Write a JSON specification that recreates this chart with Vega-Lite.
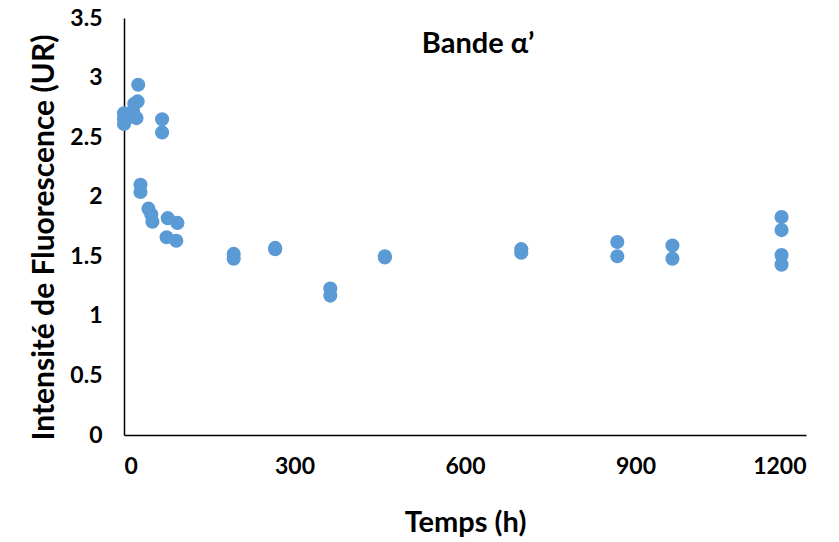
{
  "$schema": "https://vega.github.io/schema/vega-lite/v6.json",
  "width": 682,
  "height": 417,
  "autosize": {"type": "none"},
  "padding": {"left": 124, "top": 18, "right": 33, "bottom": 107},
  "background": "white",
  "config": {
    "view": {"stroke": null},
    "font": "Lato",
    "axis": {
      "grid": false,
      "ticks": false,
      "domainColor": "#000000",
      "domainWidth": 1.5,
      "labelFont": "Lato",
      "labelFontWeight": "bold",
      "labelFontSize": 23,
      "labelColor": "#000000",
      "titleFont": "Lato",
      "titleFontWeight": "bold",
      "titleFontSize": 29,
      "titleColor": "#000000"
    }
  },
  "data": {
    "values": [
      {"t": 0, "f": 2.70},
      {"t": 0, "f": 2.65},
      {"t": 0, "f": 2.61},
      {"t": 10, "f": 2.67},
      {"t": 16, "f": 2.72},
      {"t": 18, "f": 2.78},
      {"t": 22, "f": 2.66},
      {"t": 24, "f": 2.80},
      {"t": 25, "f": 2.94},
      {"t": 67, "f": 2.65},
      {"t": 67, "f": 2.54},
      {"t": 29, "f": 2.10},
      {"t": 29, "f": 2.04},
      {"t": 43, "f": 1.90},
      {"t": 48, "f": 1.85},
      {"t": 50, "f": 1.79},
      {"t": 77, "f": 1.82},
      {"t": 94, "f": 1.78},
      {"t": 75, "f": 1.66},
      {"t": 92, "f": 1.63},
      {"t": 193, "f": 1.52},
      {"t": 193, "f": 1.48},
      {"t": 266, "f": 1.57},
      {"t": 266, "f": 1.56},
      {"t": 363, "f": 1.23},
      {"t": 363, "f": 1.17},
      {"t": 459, "f": 1.50},
      {"t": 459, "f": 1.49},
      {"t": 699, "f": 1.56},
      {"t": 699, "f": 1.53},
      {"t": 868, "f": 1.62},
      {"t": 868, "f": 1.50},
      {"t": 965, "f": 1.59},
      {"t": 965, "f": 1.48},
      {"t": 1157, "f": 1.83},
      {"t": 1157, "f": 1.72},
      {"t": 1157, "f": 1.51},
      {"t": 1157, "f": 1.43}
    ]
  },
  "layer": [
    {
      "mark": {"type": "point", "filled": true, "size": 200, "color": "#5B9BD5", "opacity": 1},
      "encoding": {
        "x": {
          "field": "t",
          "type": "quantitative",
          "scale": {"domain": [0, 1200], "nice": false},
          "axis": {"values": [0, 300, 600, 900, 1200], "format": "d", "labelPadding": 20, "title": "Temps (h)", "titlePadding": 30}
        },
        "y": {
          "field": "f",
          "type": "quantitative",
          "scale": {"domain": [0, 3.5], "nice": false},
          "axis": {"values": [0, 0.5, 1, 1.5, 2, 2.5, 3, 3.5], "format": "~g", "labelPadding": 22, "title": "Intensité de Fluorescence (UR)", "titleFontSize": 30, "titlePadding": 10, "titleY": 219}
        }
      }
    },
    {
      "data": {"values": [{"label": "Bande α’"}]},
      "mark": {"type": "text", "font": "Lato", "fontSize": 29, "fontWeight": "bold", "color": "#000000", "align": "center", "baseline": "middle"},
      "encoding": {
        "x": {"datum": 623, "type": "quantitative"},
        "y": {"datum": 3.28, "type": "quantitative"},
        "text": {"field": "label"}
      }
    }
  ]
}
